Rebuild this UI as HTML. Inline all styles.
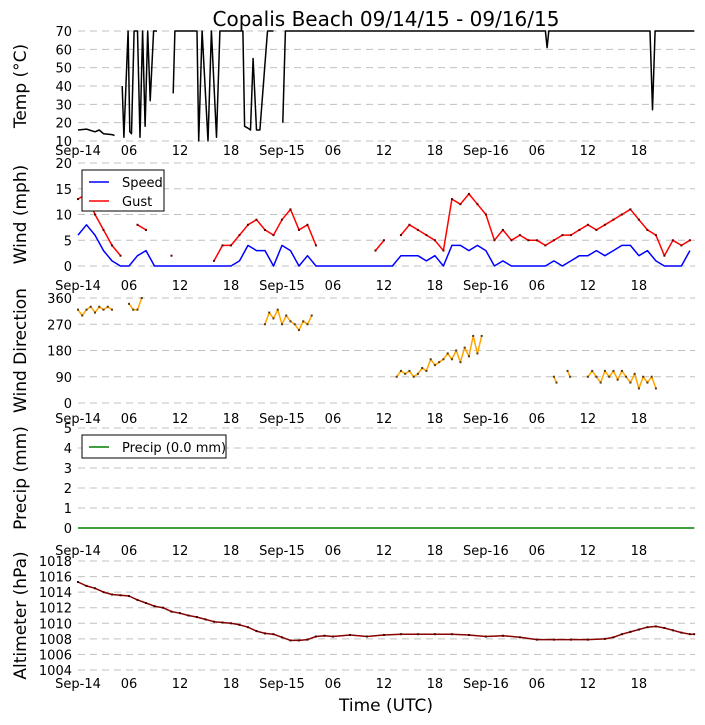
<!DOCTYPE html>
<html><head><meta charset="utf-8"><style>
body{margin:0;background:#fff;}
svg{display:block;font-family:"DejaVu Sans","Liberation Sans",sans-serif;}
</style></head><body>
<svg id="chart" width="705" height="725" viewBox="0 0 705 725" xmlns="http://www.w3.org/2000/svg">
<text x="386" y="26" font-size="20" text-anchor="middle">Copalis Beach 09/14/15 - 09/16/15</text>
<text x="386" y="711" font-size="17" text-anchor="middle">Time (UTC)</text>
</svg>
<script>
const xTickHours=[0,6,12,18,24,30,36,42,48,54,60,66];
const xTickLabels=["Sep-14","06","12","18","Sep-15","06","12","18","Sep-16","06","12","18"];
const tempHours=[0,1,2,2.5,3,4,4.3,null,5.2,5.4,5.9,6.1,6.3,6.6,7.0,7.3,7.6,7.9,8.2,8.5,8.9,9.3,null,11.2,11.4,14.0,14.2,14.6,15.3,15.7,16.3,16.7,19.4,19.6,20.0,20.3,20.6,21.0,21.4,22.3,23.0,null,24.1,24.4,55.0,55.2,55.4,67.3,67.6,67.9,72.5];
const tempVals=[16,16.5,15,16,14,13.5,13,null,40,12,70,15,14,70,70,12,70,18,70,32,70,70,null,36,70,70,10,70,10,70,12,70,70,18,17,16,55,16,16,70,70,null,20,70,70,61,70,70,27,70,70];
const windHours=[0,1,2,3,4,5,6,7,8,9,10,11,12,13,14,15,16,17,18,19,20,21,22,23,24,25,26,27,28,29,30,31,32,33,34,35,36,37,38,39,40,41,42,43,44,45,46,47,48,49,50,51,52,53,54,55,56,57,58,59,60,61,62,63,64,65,66,67,68,69,70,71,72];
const speedVals=[6,8,6,3,1,0,0,2,3,0,0,0,0,0,0,0,0,0,0,1,4,3,3,0,4,3,0,2,0,0,0,0,0,0,0,0,0,0,2,2,2,1,2,0,4,4,3,4,3,0,1,0,0,0,0,0,1,0,1,2,2,3,2,3,4,4,2,3,1,0,0,0,3];
const gustVals=[13,14,10,7,4,2,null,8,7,null,null,2,null,null,null,null,1,4,4,6,8,9,7,6,9,11,7,8,4,null,null,null,null,null,null,3,5,null,6,8,7,6,5,3,13,12,14,12,10,5,7,5,6,5,5,4,5,6,6,7,8,7,8,9,10,11,9,7,6,2,5,4,5];
const dirHours=[0,0.5,1,1.5,2,2.5,3,3.5,4,null,6,6.5,7,7.5,null,22,22.5,23,23.5,24,24.5,25,25.5,26,26.5,27,27.5,null,37.5,38,38.5,39,39.5,40,40.5,41,41.5,42,42.5,43,43.5,44,44.5,45,45.5,46,46.5,47,47.5,null,56,56.3,null,57.6,57.9,null,60,60.5,61,61.5,62,62.5,63,63.5,64,64.5,65,65.5,66,66.5,67,67.5,68];
const dirVals=[320,300,320,330,310,330,320,330,320,null,340,320,320,360,null,270,310,290,320,270,300,280,270,250,280,270,300,null,90,110,100,110,90,100,120,110,150,130,140,150,170,150,180,140,190,160,230,170,230,null,90,70,null,110,90,null,90,110,90,70,110,90,110,80,110,90,70,100,50,90,70,90,50];
const precipHours=[0,72.5];
const precipVals=[0,0];
const altHours=[0,1,2,3,4,5,6,7,8,9,10,11,12,13,14,15,16,17,18,19,20,21,22,23,24,25,26,27,28,29,30,32,34,36,38,40,42,44,46,48,50,52,54,56,58,60,62,63,64,65,66,67,68,69,70,71,72,72.5];
const altVals=[1015.3,1014.8,1014.5,1014,1013.7,1013.6,1013.5,1013,1012.6,1012.2,1012,1011.5,1011.3,1011,1010.8,1010.5,1010.2,1010.1,1010,1009.8,1009.5,1009,1008.7,1008.6,1008.2,1007.8,1007.8,1007.9,1008.3,1008.4,1008.3,1008.5,1008.3,1008.5,1008.6,1008.6,1008.6,1008.6,1008.5,1008.3,1008.4,1008.2,1007.9,1007.9,1007.9,1007.9,1008,1008.2,1008.6,1008.9,1009.2,1009.5,1009.6,1009.4,1009.1,1008.8,1008.6,1008.6];

const NS="http://www.w3.org/2000/svg";
const svg=document.getElementById('chart');
const X0=78,X1=695,HMAX=72.6;
function xs(h){return X0+(X1-X0)*h/HMAX;}
function mk(tag,attrs,parent){const e=document.createElementNS(NS,tag);for(const k in attrs)e.setAttribute(k,attrs[k]);(parent||svg).appendChild(e);return e;}
const panels=[
 {name:"temp",min:10,max:70,top:31,bot:141,ticks:[10,20,30,40,50,60,70],label:"Temp (°C)",lab:155},
 {name:"wind",min:0,max:20,top:163,bot:266,ticks:[0,5,10,15,20],label:"Wind (mph)",lab:290},
 {name:"direction",min:0,max:360,top:298,bot:403,ticks:[0,90,180,270,360],label:"Wind Direction",lab:423},
 {name:"precip",min:0,max:5,top:428,bot:528,ticks:[0,1,2,3,4,5],label:"Precip (mm)",lab:555},
 {name:"altimeter",min:1004,max:1018,top:561,bot:670,ticks:[1004,1006,1008,1010,1012,1014,1016,1018],label:"Altimeter (hPa)",lab:688}
];
function ys(p,v){return p.bot-(v-p.min)/(p.max-p.min)*(p.bot-p.top);}
panels.forEach(p=>{
 const g=mk('g',{});
 
 
 p.ticks.forEach(t=>{
  const y=ys(p,t);
  const l=mk('line',{x1:X0,x2:X1,y1:y,y2:y,stroke:'#c0c0c0','stroke-width':1,'stroke-dasharray':'7,5'},g);
  
  
  const tx=mk('text',{x:72,y:y+5,'font-size':13,'text-anchor':'end'},g);
  
  
  tx.textContent=t;
 });
 xTickHours.forEach((h,i)=>{
  const tx=mk('text',{x:xs(h),y:p.lab,'font-size':13,'text-anchor':'middle'},g);
  
  
  tx.textContent=xTickLabels[i];
 });
 const cy=(p.top+p.bot)/2;
 const yt=mk('text',{x:26,y:cy,'font-size':17,'text-anchor':'middle',transform:`rotate(-90 26 ${cy})`},g);
 
 
 yt.textContent=p.label;
});
function series(p,hours,vals,color,name,dots,dotColor){
 const g=mk('g',{});
 
 
 let d='',pen=false;
 for(let i=0;i<hours.length;i++){
  const h=hours[i],v=vals[i];
  if(h===null||v===null){pen=false;continue;}
  const y=Math.max(p.top,Math.min(p.bot,ys(p,v)));
  d+=(pen?'L':'M')+xs(h).toFixed(1)+' '+y.toFixed(1)+' ';pen=true;
 }
 const path=mk('path',{d:d,fill:'none',stroke:color,'stroke-width':1.5,'stroke-linejoin':'round'},g);
 
 
 if(dots){
  for(let i=0;i<hours.length;i++){
   if(hours[i]===null||vals[i]===null)continue;
   const r=mk('rect',{x:xs(hours[i])-1,y:ys(p,vals[i])-1,width:2,height:2,fill:dotColor},g);
   
   
  }
 }
}
series(panels[0],tempHours,tempVals,'#000','temperature',false);
series(panels[1],windHours,gustVals,'#ff0000','gust',true,'#600');
series(panels[1],windHours,speedVals,'#0000ff','speed',false);
series(panels[2],dirHours,dirVals,'#ffa500','wind-direction',true,'#5a3a10');
series(panels[3],precipHours,precipVals,'#008000','precip',false);
series(panels[4],altHours,altVals,'#8b0000','altimeter',true,'#400');
function legend(x,y,w,h,entries,name){
 const g=mk('g',{});
 
 
 mk('rect',{x:x,y:y,width:w,height:h,fill:'#fff',stroke:'#000','stroke-width':1},g);
 entries.forEach((e,i)=>{
  const yy=y+12+i*19;
  const l=mk('line',{x1:x+7,x2:x+27,y1:yy,y2:yy,stroke:e[1],'stroke-width':1.5},g);
  
  
  const t=mk('text',{x:x+40,y:yy+5,'font-size':13},g);
  
  
  t.textContent=e[0];
 });
}
legend(82,170,82,41,[["Speed","#0000ff"],["Gust","#ff0000"]],'wind-legend');
legend(82,435,144,23,[["Precip (0.0 mm)","#008000"]],'precip-legend');
</script>
</body></html>
